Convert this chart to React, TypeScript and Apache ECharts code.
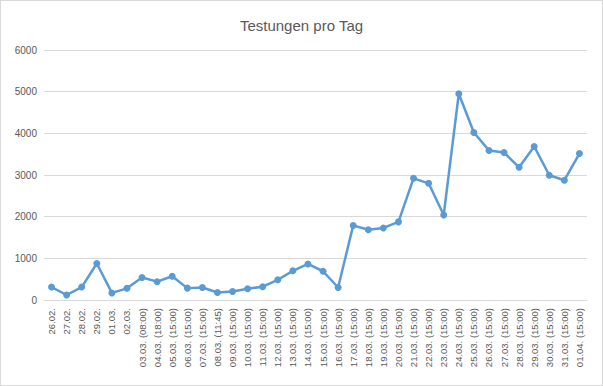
import React, { useEffect, useRef } from "react";
import * as echarts from "echarts";

const title = "Testungen pro Tag";
const categories = [
  "26.02.", "27.02.", "28.02.", "29.02.", "01.03.", "02.03.",
  "03.03. (08:00)", "04.03. (18:00)", "05.03. (15:00)", "06.03. (15:00)", "07.03. (15:00)",
  "08.03. (11:45)", "09.03. (15:00)", "10.03. (15:00)", "11.03. (15:00)", "12.03. (15:00)",
  "13.03. (15:00)", "14.03. (15:00)", "15.03. (15:00)", "16.03. (15:00)", "17.03. (15:00)",
  "18.03. (15:00)", "19.03. (15:00)", "20.03. (15:00)", "21.03. (15:00)", "22.03. (15:00)",
  "23.03. (15:00)", "24.03. (15:00)", "25.03. (15:00)", "26.03. (15:00)", "27.03. (15:00)",
  "28.03. (15:00)", "29.03. (15:00)", "30.03. (15:00)", "31.03. (15:00)", "01.04. (15:00)",
];
const tests = [
  310, 120, 310, 875, 170, 280,
  540, 440, 570, 285, 300,
  180, 205, 270, 320, 485,
  700, 865, 690, 300, 1790,
  1685, 1730, 1875, 2920, 2800,
  2040, 4950, 4020, 3590, 3540,
  3185, 3685, 2995, 2875, 3515,
];
const yTicks = { min: 0, max: 6000, interval: 1000 };

export default function App() {
  const ref = useRef<HTMLDivElement>(null);
  useEffect(() => {
    if (!ref.current) return;
    const chart = echarts.init(ref.current, undefined, { renderer: "svg" });
    const font = "Liberation Sans, Arial, sans-serif";
    chart.setOption({
      animation: false,
      backgroundColor: "#ffffff",
      title: {
        text: title,
        left: "center",
        top: 12,
        textStyle: { fontSize: 15, fontWeight: "normal", color: "#595959", fontFamily: font },
      },
      grid: { left: 43, right: 15, top: 49, bottom: 85, containLabel: false },
      xAxis: {
        type: "category",
        data: categories,
        boundaryGap: true,
        axisLine: { lineStyle: { color: "#d9d9d9" } },
        axisTick: { show: false },
        axisLabel: {
          rotate: 90,
          interval: 0,
          fontSize: 9.5,
          color: "#595959",
          fontFamily: font,
          margin: 8,
        },
      },
      yAxis: {
        type: "value",
        min: yTicks.min,
        max: yTicks.max,
        interval: yTicks.interval,
        axisLine: { show: false },
        axisTick: { show: false },
        splitLine: { lineStyle: { color: "#d9d9d9" } },
        axisLabel: {
          fontSize: 10,
          color: "#595959",
          fontFamily: font,
          margin: 7,
          formatter: (v: number) => String(v),
        },
      },
      series: [
        {
          type: "line",
          data: tests,
          symbol: "circle",
          symbolSize: 7,
          itemStyle: { color: "#5b9bd5" },
          lineStyle: { color: "#5b9bd5", width: 2.5 },
        },
      ],
    });
    return () => chart.dispose();
  }, []);
  return (
    <div
      style={{
        position: "fixed",
        left: 0,
        top: 0,
        width: 603,
        height: 386,
        boxSizing: "border-box",
        border: "1px solid #d9d9d9",
        background: "#fff",
      }}
    >
      <div ref={ref} style={{ width: 601, height: 384 }} />
    </div>
  );
}
